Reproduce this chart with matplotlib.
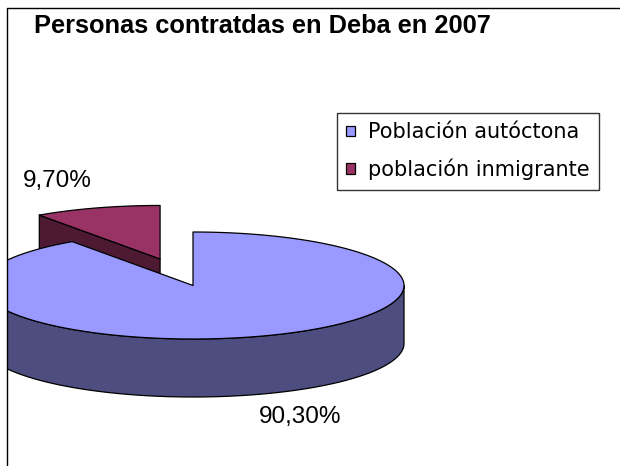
import numpy as np
import matplotlib
matplotlib.use('Agg')
import matplotlib.pyplot as plt
from matplotlib.patches import Polygon, Rectangle, Patch

plt.rcParams['font.family'] = ['Liberation Sans', 'DejaVu Sans']

categories = ['Población autóctona', 'población inmigrante']
values = [90.3, 9.7]
pct_labels = ['90,30%', '9,70%']
title = 'Personas contratdas en Deba en 2007'
top_colors = ['#9999FF', '#993366']
side_colors = ['#4D4D80', '#4D1933']
explode = [0.0, 0.52]

W, H = 620, 466
fig = plt.figure(figsize=(W / 100, H / 100), dpi=100)
ax = fig.add_axes([0, 0, 1, 1])
ax.set_xlim(0, W)
ax.set_ylim(H, 0)
ax.axis('off')

# layout of pseudo-3D pie (pixel units)
cx, cy, rx, ry, depth = 193, 285.5, 211, 53.5, 58
clip = Rectangle((6.5, 7.5), 1000, 1000, transform=ax.transData)

total = float(sum(values))
slices = []
start = 90.0
cum = 0.0
for i, v in enumerate(values):
    ts = start - cum / total * 360.0
    te = ts - v / total * 360.0
    cum += v
    mid = np.radians((ts + te) / 2)
    ox = rx * explode[i] * np.cos(mid)
    oy = -ry * explode[i] * np.sin(mid)
    slices.append((i, te, ts, ox, oy))


def pts(thetas, ox, oy, z=0.0):
    t = np.radians(thetas)
    return np.column_stack([cx + ox + rx * np.cos(t), cy + oy - ry * np.sin(t) + z])


def add(poly, fc):
    p = Polygon(poly, closed=True, facecolor=fc, edgecolor='black', lw=0.9, joinstyle='round')
    ax.add_patch(p)
    p.set_clip_path(clip)


# draw farthest slices first
for i, te, ts, ox, oy in sorted(slices, key=lambda s: s[4]):
    c = np.array([[cx + ox, cy + oy]])
    # visible cut faces
    for a, vis in ((ts, np.cos(np.radians(ts)) < -1e-6), (te, np.cos(np.radians(te)) > 1e-6)):
        if vis:
            r = pts([a], ox, oy)
            face = np.vstack([c, r, r + [0, depth], c + [0, depth]])
            add(face, side_colors[i])
    # outer rim (front half only)
    th = np.linspace(te, ts, 600)
    front = np.sin(np.radians(th)) < 0
    idx = np.where(front)[0]
    if len(idx):
        segs = np.split(idx, np.where(np.diff(idx) > 1)[0] + 1)
        for s in segs:
            tt = th[s]
            top = pts(tt, ox, oy)
            bot = pts(tt[::-1], ox, oy, depth)
            add(np.vstack([top, bot]), side_colors[i])
    # top face
    arc = pts(th, ox, oy)
    add(np.vstack([c, arc]), top_colors[i])

# chart frame (left and top edges visible)
ax.plot([6.5, 6.5, W + 5], [H + 5, 7.5, 7.5], color='black', lw=1.0, clip_on=False)

ax.text(262, 26, title, ha='center', va='center', fontsize=18.3, fontweight='bold')
ax.text(23, 181.5, pct_labels[1], ha='left', va='center', fontsize=17.5)
ax.text(300, 416.5, pct_labels[0], ha='center', va='center', fontsize=17.5)

handles = [Patch(facecolor=top_colors[i], edgecolor='black', lw=0.9) for i in range(len(values))]
leg = fig.legend(handles, categories, loc='upper left', bbox_to_anchor=(337 / W, 1 - 113 / H),
                 frameon=True, fancybox=False, edgecolor='black',
                 prop={'family': 'DejaVu Sans', 'size': 15},
                 handlelength=0.42, handleheight=0.42, handletextpad=0.6, labelspacing=0.78,
                 borderpad=0.45, borderaxespad=0)
leg.get_frame().set_linewidth(1.0)

fig.savefig('out.png', dpi=100, facecolor='white')
